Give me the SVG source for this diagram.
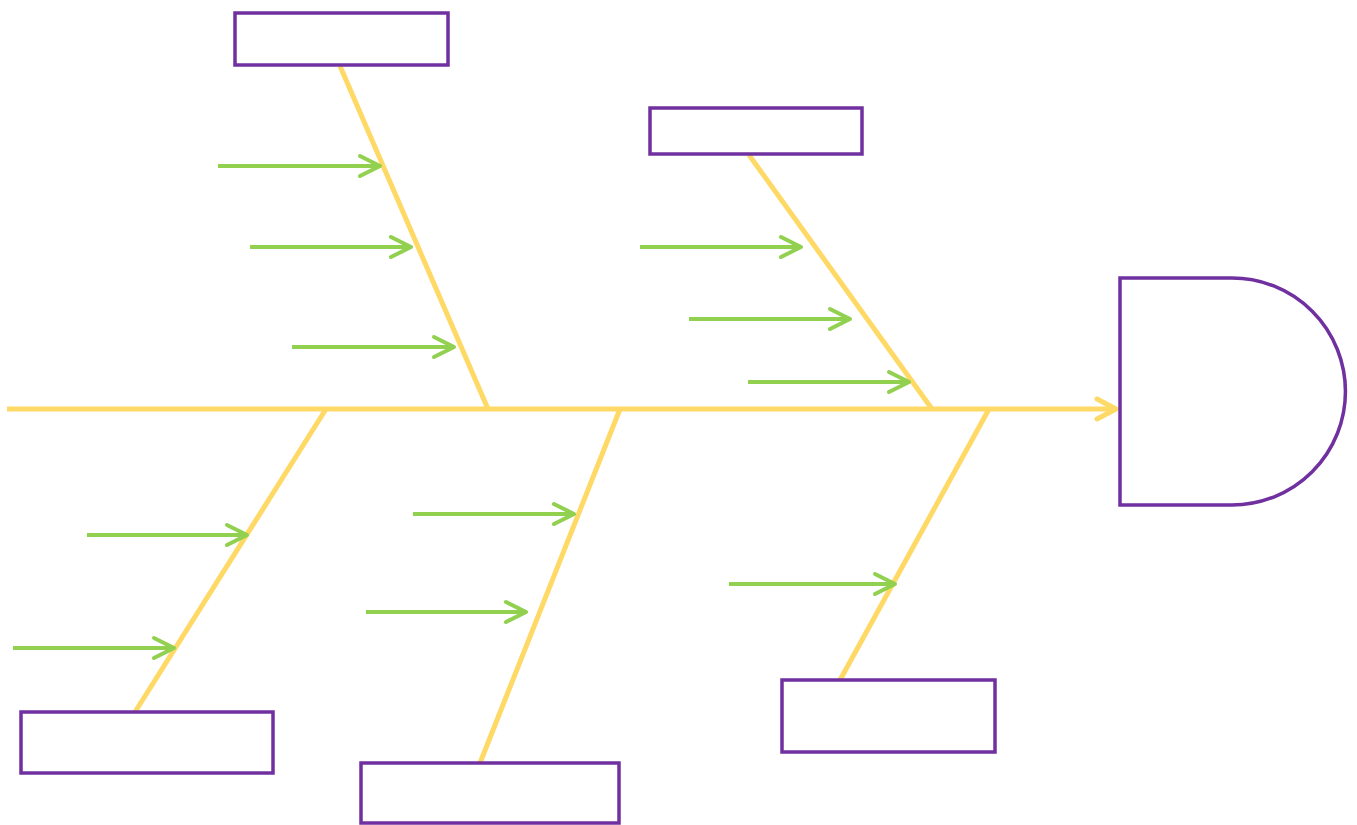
<svg xmlns="http://www.w3.org/2000/svg" width="1357" height="825" viewBox="0 0 1357 825">
<style>
.box{fill:#fff;stroke:#7030a0;stroke-width:3.5}
.bone{stroke:#ffd966;stroke-width:5;fill:none}
.cause{stroke:#92d050;stroke-width:4;fill:none;marker-end:url(#ga)}
</style>
<defs>
<marker id="ga" markerUnits="userSpaceOnUse" viewBox="-24 -13 28 26" refX="0" refY="0" markerWidth="28" markerHeight="26" orient="auto" overflow="visible">
<path d="M-20,-10 L0,0 L-20,10" fill="none" stroke="#92d050" stroke-width="4" stroke-linecap="round" stroke-linejoin="round"/>
</marker>
<marker id="ya" markerUnits="userSpaceOnUse" viewBox="-24 -14 28 28" refX="0" refY="0" markerWidth="28" markerHeight="28" orient="auto" overflow="visible">
<path d="M-19,-10 L0,0 L-19,10" fill="none" stroke="#ffd966" stroke-width="5" stroke-linecap="round" stroke-linejoin="round"/>
</marker>
</defs>
<g id="connectors">
<line class="bone" x1="7" y1="409" x2="1116" y2="409" marker-end="url(#ya)"/>
<line class="bone" x1="340" y1="66" x2="488" y2="409"/>
<line class="bone" x1="749" y1="155" x2="932" y2="409"/>
<line class="bone" x1="326" y1="409" x2="135" y2="712"/>
<line class="bone" x1="620" y1="409" x2="480" y2="763"/>
<line class="bone" x1="989" y1="409" x2="840" y2="680"/>
<line class="cause" x1="218" y1="166" x2="380" y2="166"/>
<line class="cause" x1="250" y1="247" x2="411" y2="247"/>
<line class="cause" x1="292" y1="347" x2="454" y2="347"/>
<line class="cause" x1="640" y1="247" x2="801" y2="247"/>
<line class="cause" x1="689" y1="319" x2="850" y2="319"/>
<line class="cause" x1="748" y1="382" x2="909" y2="382"/>
<line class="cause" x1="87" y1="535" x2="247" y2="535"/>
<line class="cause" x1="13" y1="648" x2="174" y2="648"/>
<line class="cause" x1="413" y1="514" x2="574" y2="514"/>
<line class="cause" x1="366" y1="612" x2="526" y2="612"/>
<line class="cause" x1="729" y1="584" x2="895" y2="584"/>
</g>
<g id="box-top-left"><rect class="box" x="235" y="13" width="213" height="52"/></g>
<g id="box-top-mid"><rect class="box" x="650" y="108" width="212" height="46"/></g>
<g id="box-bottom-left"><rect class="box" x="21" y="712" width="252" height="61"/></g>
<g id="box-bottom-mid"><rect class="box" x="361" y="763" width="258" height="60"/></g>
<g id="box-bottom-right"><rect class="box" x="782" y="680" width="213" height="72"/></g>
<g id="head"><path class="box" d="M1120,278 L1232,278 A113.5,113.5 0 0 1 1232,505 L1120,505 Z"/></g>
</svg>
